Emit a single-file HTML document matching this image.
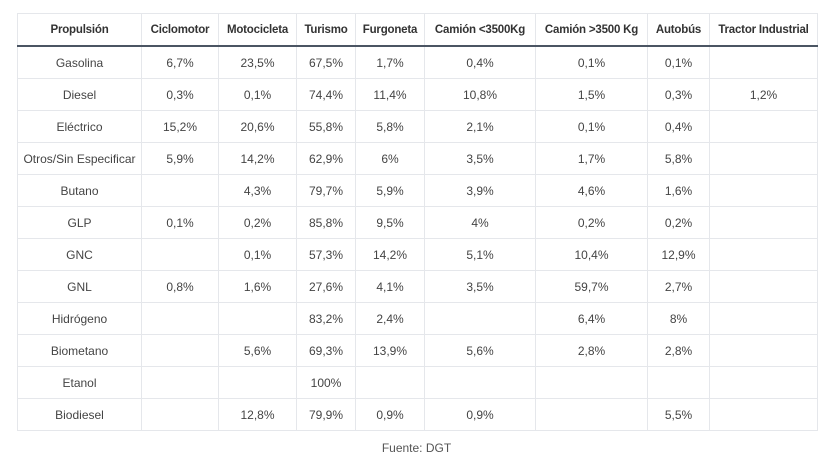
<!DOCTYPE html><html><head><style>
body{margin:0;background:#fff;width:833px;height:459px;overflow:hidden;font-family:"Liberation Sans",sans-serif;}
table{position:absolute;left:17px;top:13px;border-collapse:collapse;table-layout:fixed;width:800px;font-size:12px;color:#444;}
td,th{border:1px solid #e5e7eb;text-align:center;padding:0;height:31px;white-space:nowrap;overflow:hidden}
th{height:31px;color:#333;font-weight:bold;font-size:11.5px;letter-spacing:-0.2px;border-bottom:2px solid #4b5563}
.f{position:absolute;top:441px;left:0;width:833px;text-align:center;font-size:12px;color:#555}
</style></head><body>
<table>
<colgroup><col style="width:124px"><col style="width:77px"><col style="width:78px"><col style="width:59px"><col style="width:69px"><col style="width:111px"><col style="width:112px"><col style="width:62px"><col style="width:108px"></colgroup>
<tr><th>Propulsión</th><th>Ciclomotor</th><th>Motocicleta</th><th>Turismo</th><th>Furgoneta</th><th>Camión &lt;3500Kg</th><th>Camión &gt;3500 Kg</th><th>Autobús</th><th>Tractor Industrial</th></tr>
<tr><td>Gasolina</td><td>6,7%</td><td>23,5%</td><td>67,5%</td><td>1,7%</td><td>0,4%</td><td>0,1%</td><td>0,1%</td><td></td></tr>
<tr><td>Diesel</td><td>0,3%</td><td>0,1%</td><td>74,4%</td><td>11,4%</td><td>10,8%</td><td>1,5%</td><td>0,3%</td><td>1,2%</td></tr>
<tr><td>Eléctrico</td><td>15,2%</td><td>20,6%</td><td>55,8%</td><td>5,8%</td><td>2,1%</td><td>0,1%</td><td>0,4%</td><td></td></tr>
<tr><td>Otros/Sin Especificar</td><td>5,9%</td><td>14,2%</td><td>62,9%</td><td>6%</td><td>3,5%</td><td>1,7%</td><td>5,8%</td><td></td></tr>
<tr><td>Butano</td><td></td><td>4,3%</td><td>79,7%</td><td>5,9%</td><td>3,9%</td><td>4,6%</td><td>1,6%</td><td></td></tr>
<tr><td>GLP</td><td>0,1%</td><td>0,2%</td><td>85,8%</td><td>9,5%</td><td>4%</td><td>0,2%</td><td>0,2%</td><td></td></tr>
<tr><td>GNC</td><td></td><td>0,1%</td><td>57,3%</td><td>14,2%</td><td>5,1%</td><td>10,4%</td><td>12,9%</td><td></td></tr>
<tr><td>GNL</td><td>0,8%</td><td>1,6%</td><td>27,6%</td><td>4,1%</td><td>3,5%</td><td>59,7%</td><td>2,7%</td><td></td></tr>
<tr><td>Hidrógeno</td><td></td><td></td><td>83,2%</td><td>2,4%</td><td></td><td>6,4%</td><td>8%</td><td></td></tr>
<tr><td>Biometano</td><td></td><td>5,6%</td><td>69,3%</td><td>13,9%</td><td>5,6%</td><td>2,8%</td><td>2,8%</td><td></td></tr>
<tr><td>Etanol</td><td></td><td></td><td>100%</td><td></td><td></td><td></td><td></td><td></td></tr>
<tr><td>Biodiesel</td><td></td><td>12,8%</td><td>79,9%</td><td>0,9%</td><td>0,9%</td><td></td><td>5,5%</td><td></td></tr>
</table>
<div class="f">Fuente: DGT</div>
</body></html>
